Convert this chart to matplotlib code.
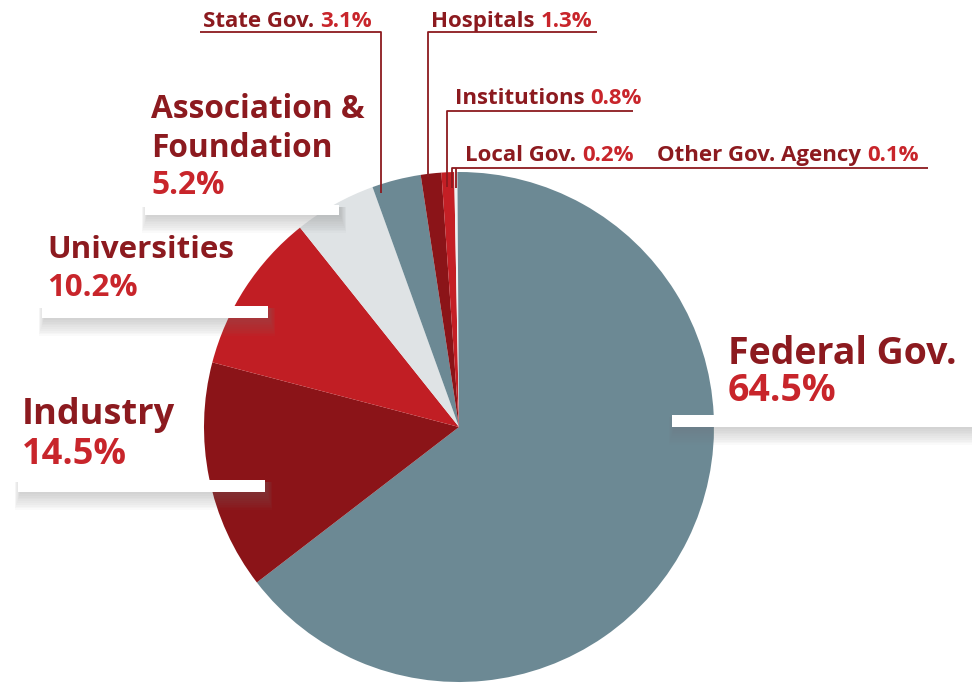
import matplotlib.pyplot as plt
from matplotlib.patches import Rectangle

# Datos
sectores = ["Federal Gov.", "Industry", "Universities", "Association &\nFoundation",
            "State Gov.", "Hospitals", "Institutions", "Local Gov.", "Other Gov. Agency"]
porcentajes = [64.5, 14.5, 10.2, 5.2, 3.1, 1.3, 0.8, 0.2, 0.1]
etiquetas_pct = ["64.5%", "14.5%", "10.2%", "5.2%", "3.1%", "1.3%", "0.8%", "0.2%", "0.1%"]
colores = ["#6c8994", "#8b1418", "#c11e24", "#dfe3e5", "#6c8994",
           "#8b1418", "#c41f25", "#eef0f1", "#6c8994"]

ROJO_OSC = "#8c1a1f"
ROJO = "#c8252b"
FUENTE = "Open Sans"
PESO = "bold"

fig = plt.figure(figsize=(9.72, 6.84), dpi=100)
ax = fig.add_axes([0, 0, 1, 1])

ax.pie(porcentajes, colors=colores, center=(459, 427), radius=255,
       startangle=-90, counterclock=True,
       wedgeprops=dict(edgecolor="none", linewidth=0))
ax.set_xlim(0, 972)
ax.set_ylim(684, 0)
ax.set_aspect("auto")
ax.axis("off")


def barra(x0, x1, y0, y1):
    # sombra difusa debajo de la barra blanca
    for i in range(10):
        ax.add_patch(Rectangle((x0 + 2 - i * 0.6, y0 + 2), (x1 - x0) + i * 1.2, (y1 - y0) + i * 1.8,
                               facecolor="#7a7a7a", edgecolor="none", alpha=0.035, zorder=3))
    ax.add_patch(Rectangle((x0, y0), x1 - x0, y1 - y0, facecolor="white",
                           edgecolor="none", zorder=4))


barra(672, 972, 415, 427)   # Federal
barra(18, 265, 480, 492)    # Industry
barra(42, 268, 306, 318)    # Universities
barra(145, 339, 205, 215)   # Association

# lineas guia
guias = [
    [(200, 381, 381), (32, 32, 193)],
    [(597, 428, 428), (32, 32, 177)],
    [(633, 447, 447), (111, 111, 187)],
    [(928, 452, 452), (168, 168, 188)],
    [(456, 456), (168, 188)],
]
for xs, ys in guias:
    ax.plot(xs, ys, color=ROJO_OSC, lw=1.3, zorder=5, solid_capstyle="butt")


def etiqueta(x, y, nombre, pct, size):
    t = ax.text(x, y, nombre + " ", color=ROJO_OSC, fontsize=size, fontweight=PESO,
                family=FUENTE, va="baseline", ha="left", zorder=6)
    fig.canvas.draw()
    bb = t.get_window_extent().transformed(ax.transData.inverted())
    ax.text(bb.x1, y, pct, color=ROJO, fontsize=size, fontweight=PESO,
            family=FUENTE, va="baseline", ha="left", zorder=6)


def etiqueta_grande(x, ys, lineas, pct, size):
    for yy, linea in zip(ys[:-1], lineas):
        ax.text(x, yy, linea, color=ROJO_OSC, fontsize=size, fontweight=PESO,
                family=FUENTE, va="baseline", ha="left", zorder=6)
    ax.text(x, ys[-1], pct, color=ROJO, fontsize=size, fontweight=PESO,
            family=FUENTE, va="baseline", ha="left", zorder=6)


etiqueta_grande(728, [364, 401], ["Federal Gov."], etiquetas_pct[0], 27)
etiqueta_grande(22, [424, 464], ["Industry"], etiquetas_pct[1], 26)
etiqueta_grande(47, [258, 296], ["Universities"], etiquetas_pct[2], 22.5)
etiqueta_grande(151, [118, 157, 194], sectores[3].split("\n"), etiquetas_pct[3], 22.8)

etiqueta(203, 27, sectores[4], etiquetas_pct[4], 16)
etiqueta(431, 27, sectores[5], etiquetas_pct[5], 16)
etiqueta(455, 104, sectores[6], etiquetas_pct[6], 16)
etiqueta(465, 161, sectores[7], etiquetas_pct[7], 16)
etiqueta(657, 161, sectores[8], etiquetas_pct[8], 16)

fig.savefig("out.png", dpi=100)
